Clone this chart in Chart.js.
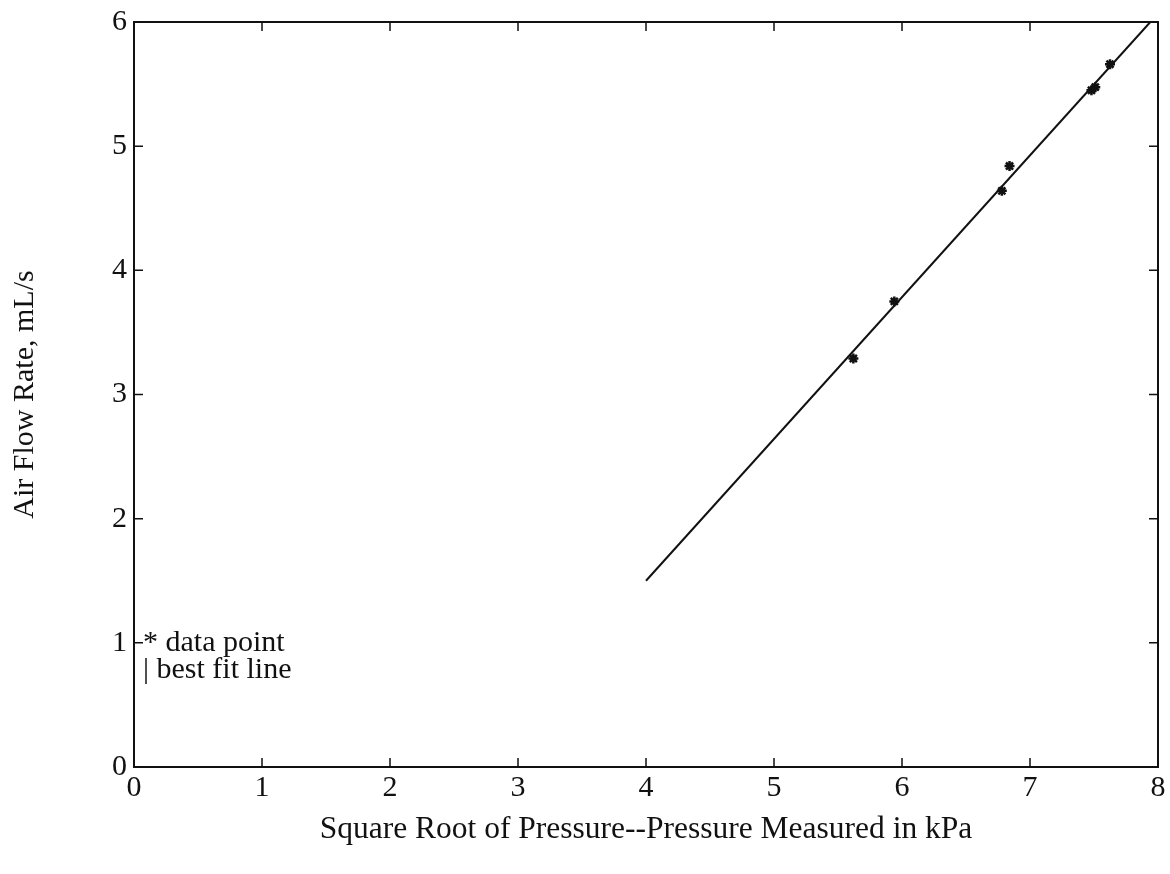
<!DOCTYPE html>
<html>
<head>
<meta charset="utf-8">
<script src="https://cdn.jsdelivr.net/npm/chart.js@4/dist/chart.umd.min.js"></script>
<style>
  html, body { margin: 0; padding: 0; background: #fff; }
  #wrap { width: 1170px; height: 874px; position: relative; }
</style>
</head>
<body>
<div id="wrap"><canvas id="c"></canvas></div>
<script>
// Measured points: square root of pressure (kPa^0.5) vs. air flow rate (mL/s)
const sqrtPressure = [5.62, 5.94, 6.78, 6.84, 7.48, 7.51, 7.625];
const airFlowRate  = [3.29, 3.75, 4.64, 4.84, 5.45, 5.475, 5.66];

// Best fit line end points
const fitX = [4.0, 7.94];
const fitY = [1.5, 6.0];

// Axis ticks
const xTicks = [0, 1, 2, 3, 4, 5, 6, 7, 8];
const yTicks = [0, 1, 2, 3, 4, 5, 6];

// Text
const xTitle = 'Square Root of Pressure--Pressure Measured in kPa';
const yTitle = 'Air Flow Rate, mL/s';
const legendLines = ['* data point', '| best fit line'];

const SERIF = '"Liberation Serif", "Times New Roman", serif';
const INK = '#111';

// Frame, inward tick marks on all four sides, and the text key
const framePlugin = {
  id: 'frame',
  afterDraw(chart) {
    const { ctx, chartArea: a, scales: { x, y } } = chart;
    ctx.save();
    ctx.strokeStyle = INK;
    ctx.lineWidth = 2;
    ctx.strokeRect(a.left, a.top, a.right - a.left, a.bottom - a.top);
    ctx.lineWidth = 1.5;
    const t = 9;
    ctx.beginPath();
    xTicks.forEach(v => {
      const px = x.getPixelForValue(v);
      ctx.moveTo(px, a.bottom); ctx.lineTo(px, a.bottom - t);
      ctx.moveTo(px, a.top); ctx.lineTo(px, a.top + t);
    });
    yTicks.forEach(v => {
      const py = y.getPixelForValue(v);
      ctx.moveTo(a.left, py); ctx.lineTo(a.left + t, py);
      ctx.moveTo(a.right, py); ctx.lineTo(a.right - t, py);
    });
    ctx.stroke();

    ctx.fillStyle = INK;
    ctx.font = '30px ' + SERIF;
    ctx.textBaseline = 'middle';
    ctx.textAlign = 'left';
    const lx = a.left + 9;
    const ly = y.getPixelForValue(1);
    ctx.fillText(legendLines[0], lx, ly);
    ctx.fillText(legendLines[1], lx, ly + 27);
    ctx.restore();
  }
};

new Chart(document.getElementById('c'), {
  type: 'scatter',
  data: {
    datasets: [
      {
        label: 'data point',
        data: sqrtPressure.map((v, i) => ({ x: v, y: airFlowRate[i] })),
        pointStyle: 'star',
        pointRadius: 5,
        pointBorderWidth: 2.5,
        borderColor: INK,
        backgroundColor: INK,
        showLine: false
      },
      {
        label: 'best fit line',
        data: fitX.map((v, i) => ({ x: v, y: fitY[i] })),
        showLine: true,
        pointRadius: 0,
        borderColor: INK,
        borderWidth: 2
      }
    ]
  },
  plugins: [framePlugin],
  options: {
    responsive: true,
    maintainAspectRatio: false,
    animation: false,
    layout: { padding: { top: 22, right: 12, left: 0, bottom: 0 } },
    plugins: { legend: { display: false }, tooltip: { enabled: false } },
    scales: {
      x: {
        type: 'linear',
        min: 0, max: 8,
        afterBuildTicks: s => { s.ticks = xTicks.map(v => ({ value: v })); },
        afterFit: s => { s.height = 107; },
        grid: { display: false, drawTicks: false },
        border: { display: false },
        ticks: { color: INK, font: { family: SERIF, size: 30 }, padding: 3, maxRotation: 0 },
        title: { display: true, text: xTitle, color: INK, font: { family: SERIF, size: 31.5 }, padding: { top: 0, bottom: 25 } }
      },
      y: {
        type: 'linear',
        min: 0, max: 6,
        afterBuildTicks: s => { s.ticks = yTicks.map(v => ({ value: v })); },
        afterFit: s => { s.width = 134; s.paddingTop = 0; s.paddingBottom = 0; },
        grid: { display: false, drawTicks: false },
        border: { display: false },
        ticks: { color: INK, font: { family: SERIF, size: 30 }, padding: 7 },
        title: { display: true, text: yTitle, color: INK, font: { family: SERIF, size: 30 }, padding: { top: 7, bottom: 0 } }
      }
    }
  }
});
</script>
</body>
</html>
